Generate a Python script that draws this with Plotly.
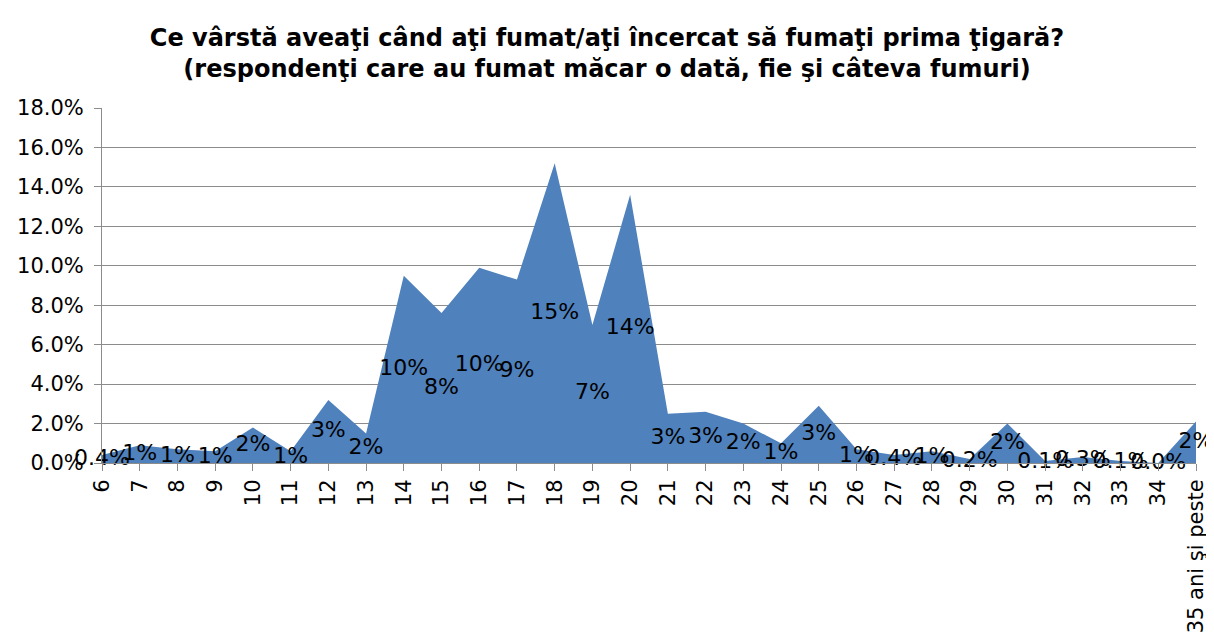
import plotly.graph_objects as go

# Varsta la prima tigara (procent respondenti)
varste = ["6", "7", "8", "9", "10", "11", "12", "13", "14", "15", "16", "17",
          "18", "19", "20", "21", "22", "23", "24", "25", "26", "27", "28", "29",
          "30", "31", "32", "33", "34", "35 ani şi peste"]
procente = [0.004, 0.009, 0.007, 0.006, 0.018, 0.006, 0.032, 0.015, 0.095, 0.076,
            0.099, 0.093, 0.152, 0.070, 0.136, 0.025, 0.026, 0.020, 0.010, 0.029,
            0.007, 0.004, 0.006, 0.002, 0.020, 0.001, 0.003, 0.001, 0.000, 0.021]
etichete = ["0.4%", "1%", "1%", "1%", "2%", "1%", "3%", "2%", "10%", "8%",
            "10%", "9%", "15%", "7%", "14%", "3%", "3%", "2%", "1%", "3%",
            "1%", "0.4%", "1%", "0.2%", "2%", "0.1%", "0.3%", "0.1%", "0.0%", "2%"]

titlu = ("Ce vârstă aveaţi când aţi fumat/aţi încercat să fumaţi prima ţigară?<br>"
         "(respondenţi care au fumat măcar o dată, fie şi câteva fumuri)")

FONT = "DejaVu Sans, Arial, sans-serif"
GRI = "#8c8c8c"

# pagina are o margine de 8px in jurul graficului
W, H = 1206, 629

fig = go.Figure()
fig.add_scatter(x=varste, y=procente, mode="lines", fill="tozeroy",
                line=dict(color="#4f81bd", width=0), fillcolor="#4f81bd",
                hoverinfo="skip", showlegend=False)
# etichetele stau la jumatatea inaltimii, ca in Excel
fig.add_scatter(x=varste, y=[p / 2 for p in procente], mode="text", text=etichete,
                textposition="middle center",
                textfont=dict(family=FONT, size=22, color="black"),
                hoverinfo="skip", showlegend=False, cliponaxis=False)

fig.update_layout(
    width=W, height=H,
    margin=dict(l=94, r=18, t=100, b=174, autoexpand=False),
    paper_bgcolor="white", plot_bgcolor="white",
    title=dict(text=titlu, x=599 / W, xanchor="center", yref="container",
               y=1 - 38 / H, yanchor="middle",
               font=dict(family=FONT, size=24, color="black", weight="bold")),
    font=dict(family=FONT, color="black"),
)
fig.update_xaxes(type="category", range=[0, len(varste) - 1], showgrid=False,
                 automargin=False,
                 showline=True, linecolor=GRI, linewidth=1,
                 ticks="outside", ticklen=7, tickcolor=GRI, tickangle=-90,
                 tickfont=dict(family=FONT, size=21, color="black"))
fig.update_yaxes(range=[0, 0.18], dtick=0.02, tickformat=".1%", automargin=False,
                 showgrid=True, gridcolor=GRI, gridwidth=1, zeroline=False,
                 showline=True, linecolor=GRI, linewidth=1,
                 ticks="outside", ticklen=7, tickcolor=GRI, ticklabelstandoff=6,
                 tickfont=dict(family=FONT, size=21, color="black"))

fig.write_html("out.html")
